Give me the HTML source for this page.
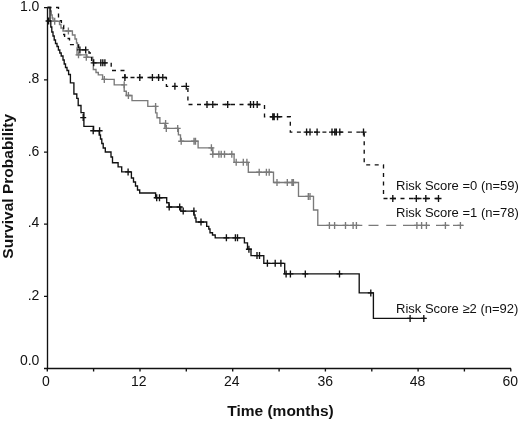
<!DOCTYPE html>
<html><head><meta charset="utf-8"><style>
html,body{margin:0;padding:0;background:#fff;}
body{width:520px;height:422px;overflow:hidden;}
svg{display:block;will-change:transform;font-family:"Liberation Sans",sans-serif;}
</style></head><body>
<svg width="520" height="422" viewBox="0 0 520 422">
<rect width="520" height="422" fill="#fff"/>
<g fill="#111" font-size="14">
<text x="39.4" y="11.3" text-anchor="end">1.0</text>
<text x="39.4" y="83.4" text-anchor="end">.8</text>
<text x="39.4" y="155.6" text-anchor="end">.6</text>
<text x="39.4" y="227.3" text-anchor="end">.4</text>
<text x="39.4" y="299.5" text-anchor="end">.2</text>
<text x="39.4" y="364.8" text-anchor="end">0.0</text>
<text x="46.0" y="385.6" text-anchor="middle">0</text>
<text x="138.8" y="385.6" text-anchor="middle">12</text>
<text x="231.8" y="385.6" text-anchor="middle">24</text>
<text x="325.2" y="385.6" text-anchor="middle">36</text>
<text x="417.6" y="385.6" text-anchor="middle">48</text>
<text x="510.3" y="385.6" text-anchor="middle">60</text>
</g>
<g fill="none" stroke="#111" stroke-width="1.35">
<path d="M47.5 7 V368.5 H511"/>
<path d="M44 7.6 H47.5 M44 79.9 H47.5 M44 152.1 H47.5 M44 224.1 H47.5 M44 296.3 H47.5 M44 368.5 H47.5"/>
<path d="M47.3 368.5 V371.5 M93.6 368.5 V371.5 M140.0 368.5 V371.5 M186.3 368.5 V371.5 M232.7 368.5 V371.5 M279.1 368.5 V371.5 M325.4 368.5 V371.5 M371.8 368.5 V371.5 M418.1 368.5 V371.5 M464.4 368.5 V371.5 M510.8 368.5 V371.5"/>
</g>
<g fill="none" stroke="#7a7a7a" stroke-width="1.35">
<path d="M47.5 7.5 L50.5 7.5 L50.5 11.0 L51.3 11.0 L51.3 15.0 L52.2 15.0 L52.2 18.0 L53.0 18.0 L53.0 21.2 L59.5 21.2 L59.5 24.5 L61.0 24.5 L61.0 28.0 L63.0 28.0 L63.0 31.0 L72.4 31.0 L72.4 35.0 L75.0 35.0 L75.0 39.0 L76.5 39.0 L76.5 43.0 L77.5 43.0 L77.5 48.0 L77.0 48.0 L77.0 54.8 L87.0 54.8 L87.0 57.2 L92.8 57.2 L92.8 62.8 L93.3 62.8 L93.3 69.5 L96.0 69.5 L96.0 72.5 L98.3 72.5 L98.3 74.8 L102.6 74.8 L102.6 79.4 L114.2 79.4 L114.2 84.8 L124.2 84.8 L124.2 91.2 L126.3 91.2 L126.3 95.5 L132.0 95.5 L132.0 100.6 L147.8 100.6 L147.8 106.4 L155.6 106.4 L155.6 112.8 L157.0 112.8 L157.0 117.7 L159.9 117.7 L159.9 123.4 L164.9 123.4 L164.9 128.4 L178.4 128.4 L178.4 134.8 L180.5 134.8 L180.5 141.2 L198.1 141.2 L198.1 147.8 L212.8 147.8 L212.8 154.2 L234.1 154.2 L234.1 162.3 L248.3 162.3 L248.3 172.2 L273.5 172.2 L273.5 182.5 L298.5 182.5 L298.5 196.4 L313.5 196.4 L313.5 210.0 L317.8 210.0 L317.8 225.4 L362.3 225.4"/>
<path d="M368.5 225.4 H378.5 M386.2 225.4 H396.2 M403 225.4 H430 M436 225.4 H449.5 M453 225.4 H463.5"/>
<path d="M54.7 17.7 V24.7 M51.7 21.2 H57.7 M68.4 27.5 V34.5 M65.4 31.0 H71.4 M78.5 51.3 V58.3 M75.5 54.8 H81.5 M86.3 53.7 V60.7 M83.3 57.2 H89.3 M104.3 75.9 V82.9 M101.3 79.4 H107.3 M124.2 81.3 V88.3 M121.2 84.8 H127.2 M128.4 92.0 V99.0 M125.4 95.5 H131.4 M155.6 102.9 V109.9 M152.6 106.4 H158.6 M165.6 119.9 V126.9 M162.6 123.4 H168.6 M166.3 124.9 V131.9 M163.3 128.4 H169.3 M177.7 124.9 V131.9 M174.7 128.4 H180.7 M181.2 137.7 V144.7 M178.2 141.2 H184.2 M194.0 137.7 V144.7 M191.0 141.2 H197.0 M195.5 137.7 V144.7 M192.5 141.2 H198.5 M211.4 144.3 V151.3 M208.4 147.8 H214.4 M212.8 150.7 V157.7 M209.8 154.2 H215.8 M218.9 150.7 V157.7 M215.9 154.2 H221.9 M221.2 150.7 V157.7 M218.2 154.2 H224.2 M224.5 150.7 V157.7 M221.5 154.2 H227.5 M231.8 150.7 V157.7 M228.8 154.2 H234.8 M236.2 158.8 V165.8 M233.2 162.3 H239.2 M243.3 158.8 V165.8 M240.3 162.3 H246.3 M246.9 158.8 V165.8 M243.9 162.3 H249.9 M259.2 168.7 V175.7 M256.2 172.2 H262.2 M266.4 168.7 V175.7 M263.4 172.2 H269.4 M269.2 168.7 V175.7 M266.2 172.2 H272.2 M277.0 179.0 V186.0 M274.0 182.5 H280.0 M287.3 179.0 V186.0 M284.3 182.5 H290.3 M292.0 179.0 V186.0 M289.0 182.5 H295.0 M293.4 179.0 V186.0 M290.4 182.5 H296.4 M308.3 192.9 V199.9 M305.3 196.4 H311.3 M310.0 192.9 V199.9 M307.0 196.4 H313.0 M329.4 221.9 V228.9 M326.4 225.4 H332.4 M334.6 221.9 V228.9 M331.6 225.4 H337.6 M345.5 221.9 V228.9 M342.5 225.4 H348.5 M353.1 221.9 V228.9 M350.1 225.4 H356.1 M356.4 221.9 V228.9 M353.4 225.4 H359.4 M416.9 221.9 V228.9 M413.9 225.4 H419.9 M421.6 221.9 V228.9 M418.6 225.4 H424.6 M426.4 221.9 V228.9 M423.4 225.4 H429.4 M445.4 221.9 V228.9 M442.4 225.4 H448.4 M460.4 221.9 V228.9 M457.4 225.4 H463.4 "/>
</g>
<g fill="none" stroke="#111" stroke-width="1.35">
<path d="M47.5 7.5 L58.5 7.5 L58.5 20.7 L61.4 20.7 L61.4 25.5 L63.7 25.5 L63.7 34.5 L64.6 34.5 L64.6 38.5 L69.5 38.5 L69.5 44.6 L78.6 44.6 L78.6 49.9 L89.0 49.9 L89.0 53.0 L91.6 53.0 L91.6 62.8 L111.2 62.8 L111.2 70.5 L124.9 70.5 L124.9 77.5 L166.4 77.5 L166.4 86.3 L187.9 86.3 L187.9 104.5 L264.5 104.5 L264.5 116.7 L290.3 116.7 L290.3 132.1 L364.2 132.1 L364.2 164.8 L383.5 164.8 L383.5 198.5 L442.0 198.5" stroke-dasharray="4 4.5"/>
<path d="M79.9 46.4 V53.4 M76.9 49.9 H82.9 M85.7 46.4 V53.4 M82.7 49.9 H88.7 M93.7 59.3 V66.3 M90.7 62.8 H96.7 M100.8 59.3 V66.3 M97.8 62.8 H103.8 M102.8 59.3 V66.3 M99.8 62.8 H105.8 M104.9 59.3 V66.3 M101.9 62.8 H107.9 M124.9 74.0 V81.0 M121.9 77.5 H127.9 M139.8 74.0 V81.0 M136.8 77.5 H142.8 M152.4 74.0 V81.0 M149.4 77.5 H155.4 M158.6 74.0 V81.0 M155.6 77.5 H161.6 M162.8 74.0 V81.0 M159.8 77.5 H165.8 M174.9 82.8 V89.8 M171.9 86.3 H177.9 M186.3 82.8 V89.8 M183.3 86.3 H189.3 M207.0 101.0 V108.0 M204.0 104.5 H210.0 M212.8 101.0 V108.0 M209.8 104.5 H215.8 M227.7 101.0 V108.0 M224.7 104.5 H230.7 M250.5 101.0 V108.0 M247.5 104.5 H253.5 M253.5 101.0 V108.0 M250.5 104.5 H256.5 M257.2 101.0 V108.0 M254.2 104.5 H260.2 M272.8 113.2 V120.2 M269.8 116.7 H275.8 M274.2 113.2 V120.2 M271.2 116.7 H277.2 M277.5 113.2 V120.2 M274.5 116.7 H280.5 M306.6 128.6 V135.6 M303.6 132.1 H309.6 M310.0 128.6 V135.6 M307.0 132.1 H313.0 M317.1 128.6 V135.6 M314.1 132.1 H320.1 M332.0 128.6 V135.6 M329.0 132.1 H335.0 M334.8 128.6 V135.6 M331.8 132.1 H337.8 M336.3 128.6 V135.6 M333.3 132.1 H339.3 M339.8 128.6 V135.6 M336.8 132.1 H342.8 M363.5 128.6 V135.6 M360.5 132.1 H366.5 M392.8 195.0 V202.0 M389.8 198.5 H395.8 M416.3 195.0 V202.0 M413.3 198.5 H419.3 M425.8 195.0 V202.0 M422.8 198.5 H428.8 M438.5 195.0 V202.0 M435.5 198.5 H441.5 "/>
<path d="M47.5 7.5 L50.0 7.5 L50.0 21.0 L50.8 21.0 L50.8 27.0 L51.8 27.0 L51.8 32.0 L53.0 32.0 L53.0 36.0 L54.2 36.0 L54.2 40.0 L55.5 40.0 L55.5 43.5 L57.0 43.5 L57.0 46.5 L58.4 46.5 L58.4 50.0 L59.8 50.0 L59.8 53.0 L61.2 53.0 L61.2 56.0 L63.0 56.0 L63.0 60.0 L64.2 60.0 L64.2 64.0 L65.5 64.0 L65.5 67.5 L67.0 67.5 L67.0 70.5 L68.6 70.5 L68.6 74.5 L70.4 74.5 L70.4 82.8 L73.9 82.8 L73.9 94.0 L76.8 94.0 L76.8 98.4 L78.2 98.4 L78.2 105.5 L81.0 105.5 L81.0 112.6 L83.9 112.6 L83.9 126.3 L93.6 126.3 L93.6 130.7 L99.2 130.7 L99.2 135.0 L100.5 135.0 L100.5 139.0 L101.8 139.0 L101.8 143.5 L103.2 143.5 L103.2 148.0 L105.3 148.0 L105.3 152.0 L111.0 152.0 L111.0 157.0 L112.5 157.0 L112.5 162.7 L118.1 162.7 L118.1 166.9 L121.7 166.9 L121.7 171.9 L131.4 171.9 L131.4 178.0 L133.5 178.0 L133.5 182.0 L135.5 182.0 L135.5 186.0 L137.5 186.0 L137.5 190.0 L139.7 190.0 L139.7 193.0 L155.6 193.0 L155.6 197.7 L166.7 197.7 L166.7 202.7 L169.0 202.7 L169.0 207.0 L180.8 207.0 L180.8 211.1 L193.9 211.1 L193.9 215.0 L195.0 215.0 L195.0 218.0 L196.0 218.0 L196.0 222.0 L206.7 222.0 L206.7 226.3 L208.8 226.3 L208.8 229.0 L210.0 229.0 L210.0 232.7 L212.5 232.7 L212.5 235.0 L215.2 235.0 L215.2 237.8 L244.4 237.8 L244.4 242.8 L247.5 242.8 L247.5 249.2 L251.0 249.2 L251.0 255.6 L263.8 255.6 L263.8 263.3 L284.7 263.3 L284.7 273.9 L359.2 273.9 L359.2 292.9 L373.4 292.9 L373.4 318.4 L425.5 318.4"/>
<path d="M48.6 17.5 V24.5 M45.6 21.0 H51.6 M83.2 114.1 V121.1 M80.2 117.6 H86.2 M93.2 127.2 V134.2 M90.2 130.7 H96.2 M99.6 127.2 V134.2 M96.6 130.7 H102.6 M128.1 168.4 V175.4 M125.1 171.9 H131.1 M156.7 194.2 V201.2 M153.7 197.7 H159.7 M159.5 194.2 V201.2 M156.5 197.7 H162.5 M169.2 203.5 V210.5 M166.2 207.0 H172.2 M179.7 203.5 V210.5 M176.7 207.0 H182.7 M183.2 207.6 V214.6 M180.2 211.1 H186.2 M193.9 207.6 V214.6 M190.9 211.1 H196.9 M201.0 218.5 V225.5 M198.0 222.0 H204.0 M226.4 234.3 V241.3 M223.4 237.8 H229.4 M235.4 234.3 V241.3 M232.4 237.8 H238.4 M237.5 234.3 V241.3 M234.5 237.8 H240.5 M248.9 245.7 V252.7 M245.9 249.2 H251.9 M257.0 252.1 V259.1 M254.0 255.6 H260.0 M259.5 252.1 V259.1 M256.5 255.6 H262.5 M267.4 259.8 V266.8 M264.4 263.3 H270.4 M275.2 259.8 V266.8 M272.2 263.3 H278.2 M280.9 259.8 V266.8 M277.9 263.3 H283.9 M286.1 270.4 V277.4 M283.1 273.9 H289.1 M290.4 270.4 V277.4 M287.4 273.9 H293.4 M305.3 270.4 V277.4 M302.3 273.9 H308.3 M339.5 270.4 V277.4 M336.5 273.9 H342.5 M370.8 289.4 V296.4 M367.8 292.9 H373.8 M410.1 314.9 V321.9 M407.1 318.4 H413.1 M423.8 314.9 V321.9 M420.8 318.4 H426.8 "/>
</g>
<g fill="#111" font-size="13">
<text x="396" y="190">Risk Score =0 (n=59)</text>
<text x="396" y="217.3">Risk Score =1 (n=78)</text>
<text x="396" y="312.5">Risk Score ≥2 (n=92)</text>
</g>
<g fill="#111" font-size="15.5" font-weight="bold">
<text x="280.5" y="415.8" text-anchor="middle">Time (months)</text>
<text transform="translate(13.2 186.3) rotate(-90)" text-anchor="middle">Survival Probability</text>
</g>
</svg>
</body></html>
